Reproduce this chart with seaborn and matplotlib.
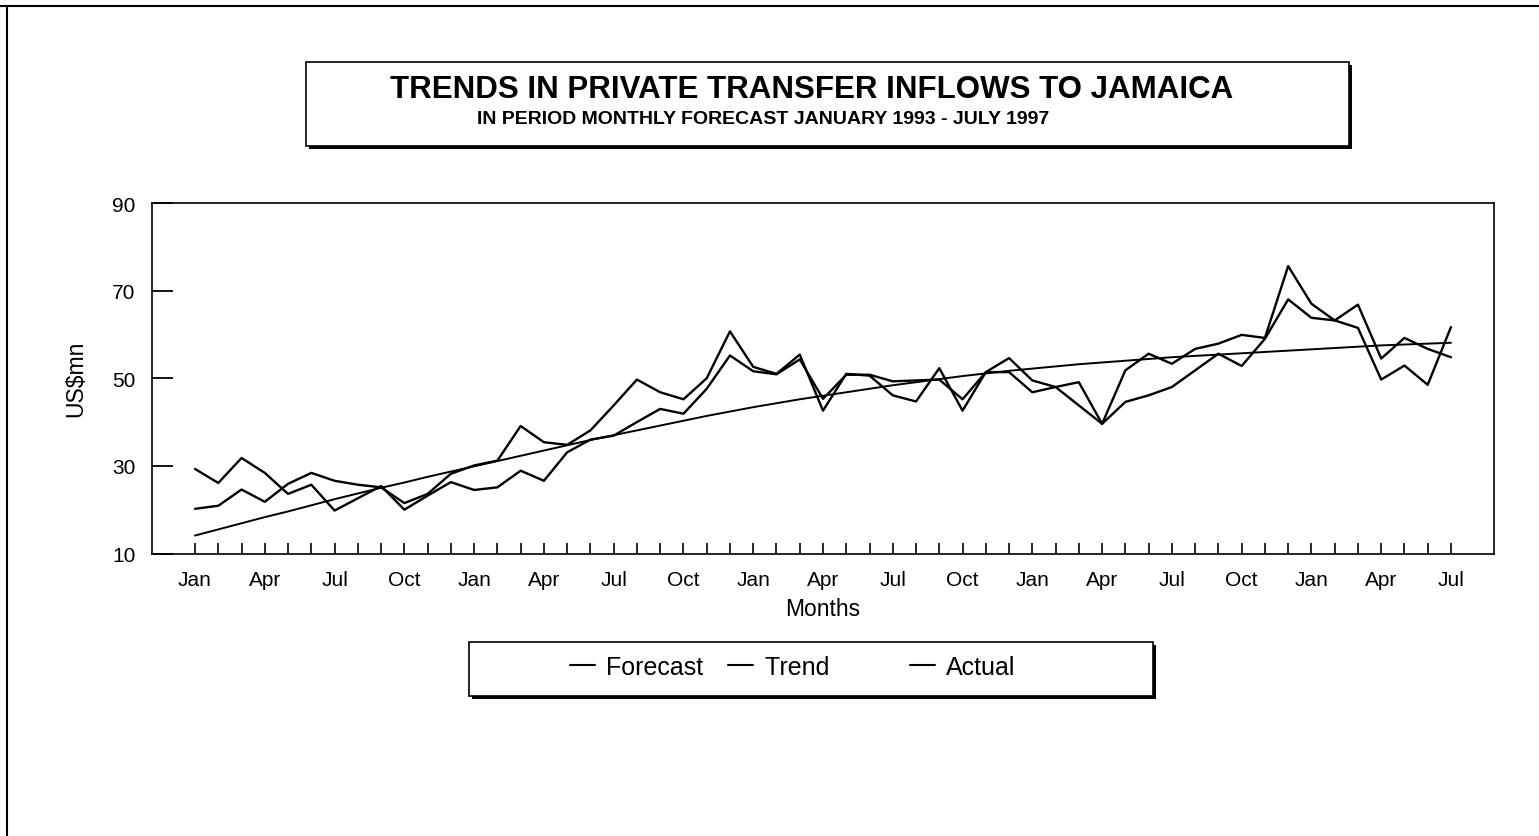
import matplotlib
matplotlib.use("Agg")
import matplotlib.pyplot as plt
from matplotlib.patches import Rectangle
from matplotlib.lines import Line2D
import numpy as np
import pandas as pd
import seaborn as sns

# ---------------- data ----------------
start_year = 1993
month_names = ["Jan", "Feb", "Mar", "Apr", "May", "Jun",
               "Jul", "Aug", "Sep", "Oct", "Nov", "Dec"]
label_months = ["Jan", "Apr", "Jul", "Oct"]

forecast = [29.3, 26.1, 31.8, 28.4, 23.6, 25.7, 19.8, 22.6, 25.4, 20.0,
            23.2, 26.3, 24.5, 25.1, 28.9, 26.6, 33.1, 36.0, 36.9, 40.0,
            43.0, 41.9, 47.6, 55.2, 51.6, 50.9, 54.3, 45.3, 50.8, 50.8,
            49.3, 49.5, 49.7, 45.2, 51.4, 51.4, 46.8, 48.0, 43.8, 39.6,
            44.6, 46.1, 48.0, 51.8, 55.6, 52.8, 59.0, 68.0, 63.8, 63.2,
            61.5, 49.7, 52.9, 48.5, 61.7]

trend = [14.1, 15.5, 16.9, 18.3, 19.6, 21.0, 22.4, 23.7, 25.0, 26.2,
         27.5, 28.7, 29.9, 31.1, 32.3, 33.5, 34.7, 35.9, 37.0, 38.1,
         39.2, 40.3, 41.4, 42.4, 43.4, 44.3, 45.2, 46.0, 46.8, 47.6,
         48.4, 49.1, 49.8, 50.5, 51.1, 51.7, 52.2, 52.7, 53.2, 53.6,
         54.0, 54.4, 54.8, 55.1, 55.4, 55.7, 56.0, 56.3, 56.6, 56.9,
         57.2, 57.5, 57.7, 57.9, 58.1]

actual = [20.2, 20.9, 24.6, 21.8, 25.9, 28.4, 26.6, 25.7, 25.1, 21.5,
          23.6, 28.2, 30.1, 31.2, 39.1, 35.4, 34.8, 38.1, 43.8, 49.7,
          46.8, 45.2, 50.0, 60.7, 52.6, 51.0, 55.4, 42.6, 51.0, 50.6,
          46.1, 44.7, 52.3, 42.6, 51.4, 54.6, 49.5, 48.0, 49.1, 39.6,
          51.8, 55.6, 53.3, 56.7, 57.9, 59.9, 59.2, 75.6, 67.0, 63.2,
          66.8, 54.5, 59.2, 56.7, 54.8]

y_ticks = [10, 30, 50, 70, 90]
legend_labels = ["Forecast", "Trend", "Actual"]

title = "TRENDS IN PRIVATE TRANSFER INFLOWS TO JAMAICA"
subtitle = "IN PERIOD MONTHLY FORECAST JANUARY 1993 - JULY 1997"

# ---------------- build frame ----------------
n = len(actual)
month_idx = list(range(n))
month_lab = [month_names[i % 12] for i in month_idx]
df = pd.DataFrame({"idx": month_idx, "Forecast": forecast,
                   "Trend": trend, "Actual": actual})

# ---------------- style ----------------
sns.set_style("white")
plt.rcParams["font.family"] = ["Liberation Sans", "DejaVu Sans"]
plt.rcParams["text.color"] = "black"
plt.rcParams["axes.labelcolor"] = "black"
plt.rcParams["xtick.color"] = "black"
plt.rcParams["ytick.color"] = "black"

W, H = 1539, 837
fig = plt.figure(figsize=(W / 100, H / 100), dpi=100)
fig.patch.set_facecolor("white")

def fx(px):
    return px / W

def fy(py):
    return 1 - py / H

ax = fig.add_axes([fx(152), fy(554.5), fx(1494) - fx(152), fy(204) - fy(554.5)])

sns.lineplot(data=df, x="idx", y="Forecast", ax=ax, color="black", linewidth=1.7)
sns.lineplot(data=df, x="idx", y="Trend", ax=ax, color="black", linewidth=1.4)
sns.lineplot(data=df, x="idx", y="Actual", ax=ax, color="black", linewidth=1.7)

ax.set_xlim(-1.85, 55.85)
ax.set_ylim(10, 90)
ax.set_yticks(y_ticks)
ax.set_yticklabels([str(v) for v in y_ticks])
ax.set_xticks(month_idx)
ax.set_xticklabels([m if m in label_months else "" for m in month_lab])

for s in ax.spines.values():
    s.set_visible(True)
    s.set_color("black")
    s.set_linewidth(1.2)

ax.tick_params(axis="y", direction="in", length=15, width=1.3, pad=12,
               labelsize=15, colors="black", left=True)
ax.tick_params(axis="x", direction="in", length=8, width=1.2, pad=12,
               labelsize=15, colors="black", bottom=True)
ax.grid(False)

ax.set_xlabel("Months", fontsize=16.5, labelpad=6, color="black")
ax.set_ylabel("US$mn", fontsize=16.5, labelpad=18, color="black")

# ---------------- title box ----------------
def shadow_box(x0, y0, x1, y1, off=3):
    fig.add_artist(Rectangle((fx(x0 + off), fy(y1 + off)),
                             fx(x1 - x0), fy(y0) - fy(y1),
                             transform=fig.transFigure, facecolor="black",
                             edgecolor="black", linewidth=0, zorder=1))
    fig.add_artist(Rectangle((fx(x0), fy(y1)), fx(x1 - x0), fy(y0) - fy(y1),
                             transform=fig.transFigure, facecolor="white",
                             edgecolor="black", linewidth=1.2, zorder=2))

shadow_box(306, 63, 1349, 147)
fig.text(fx(812), fy(90), title, ha="center", va="center", fontsize=22.5,
         fontweight="bold", zorder=3, color="black")
fig.text(fx(763), fy(119), subtitle, ha="center", va="center", fontsize=14,
         fontweight="bold", zorder=3, color="black")

# ---------------- legend box ----------------
shadow_box(469, 643, 1153, 697)
handles = [Line2D([], [], color="black", linewidth=1.5) for _ in range(3)]
labels = [legend_labels[0], legend_labels[1] + "        ", legend_labels[2]]
leg = fig.legend(handles, labels, ncol=3,
                 loc="center left", bbox_to_anchor=(fx(570), fy(668)),
                 frameon=False, fontsize=18, handlelength=1.0,
                 handletextpad=0.45, columnspacing=1.0, borderpad=0,
                 borderaxespad=0)
leg.set_zorder(5)

# ---------------- page border ----------------
fig.add_artist(Line2D([0, 1], [fy(7), fy(7)], transform=fig.transFigure,
                      color="black", linewidth=1.5))
fig.add_artist(Line2D([fx(7), fx(7)], [fy(7), 0], transform=fig.transFigure,
                      color="black", linewidth=1.5))

fig.savefig("out.png", dpi=100, facecolor="white")
